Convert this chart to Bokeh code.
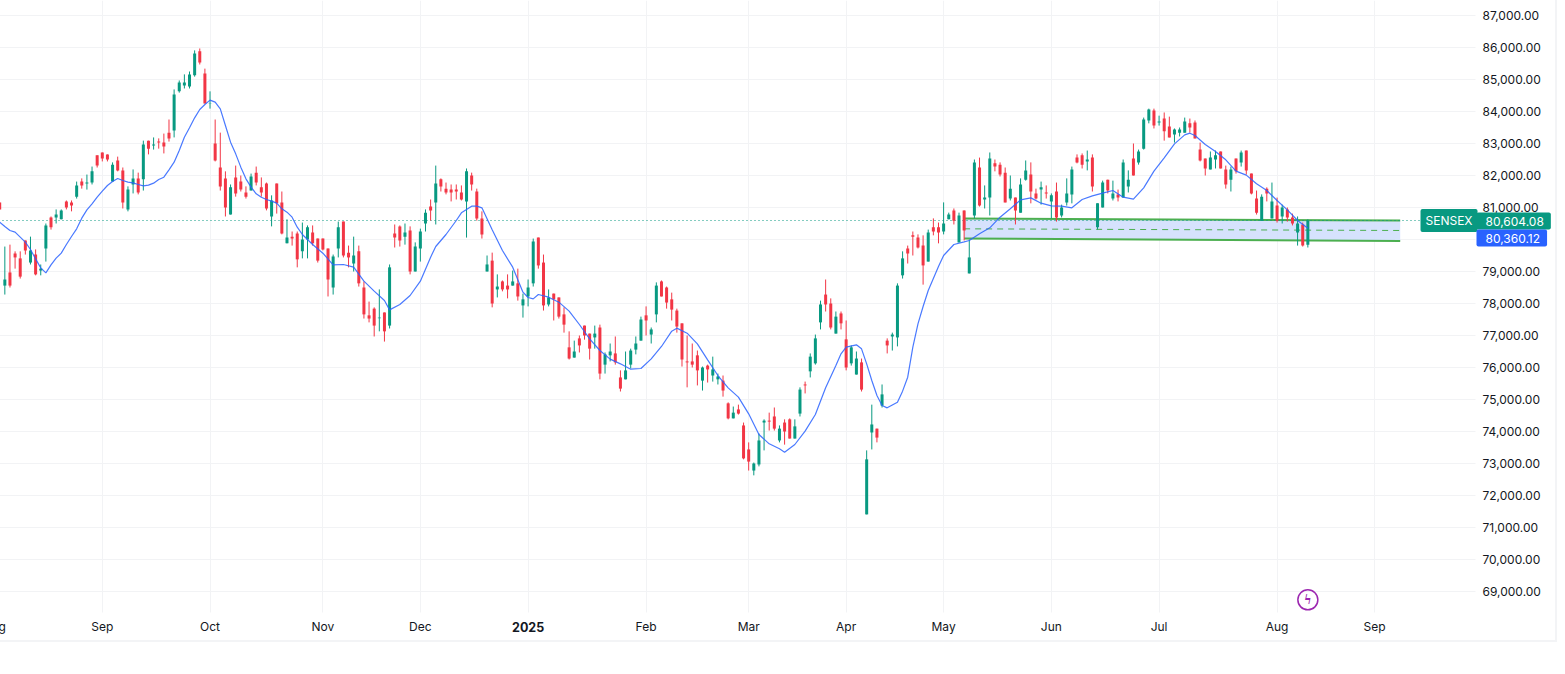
from bokeh.plotting import figure
from bokeh.embed import file_html
from bokeh.resources import INLINE
from bokeh.models import FixedTicker, Label, Range1d, NumeralTickFormatter

opens = [
81170,78570,78980,79570,79420,79980,79290,79540,79040,79730,
80700,80700,80640,81200,81170,81350,81820,81760,81790,82640,
82730,82670,81820,82480,82170,80950,81730,81920,81890,83100,
82950,83070,83040,83350,83420,84640,84820,84790,85140,85890,
85200,84250,83010,82260,81920,80790,81950,81820,81480,81540,
82100,81640,81760,80730,81760,81170,79890,80100,80200,79640,
80010,80230,80040,80040,79730,78510,79730,80570,79600,79260,
79640,78510,77640,77850,77550,77730,77320,80200,80420,80100,
80290,79010,79730,80510,81040,81170,81890,81600,81570,81570,
81480,81200,82010,81510,80670,79010,79350,78450,78700,78570,
78570,78640,77950,78230,78640,80070,79290,77980,78320,78200,
77670,76640,76320,76920,77320,77070,76950,77260,76100,76390,
76450,75700,75640,76100,76570,76850,77640,77040,77670,78700,
78510,78140,77790,77390,76200,76200,76390,75600,76070,75760,
75640,75600,74890,74420,74700,74200,73450,72790,72980,74290,
74350,74480,73730,74290,74390,73790,74570,75480,75890,76140,
77420,78290,78010,77070,77700,76890,76140,75790,76170,71420,
73980,74100,74820,76850,76980,76950,78890,79730,80140,80070,
79820,79320,80390,80390,80260,80640,80920,79920,80920,78950,
80760,82260,81260,81320,82390,82350,82100,81290,81320,80850,
81880,82040,81450,81570,81480,81200,81510,80760,81170,81420,
82570,82640,82450,82570,80390,81010,81880,81290,81420,81320,
81670,82540,82420,82850,83730,84040,83670,83790,83540,83290,
83350,83350,83640,83670,82820,82540,82200,82510,82760,82200,
81880,82540,82420,82790,82070,81290,80600,81600,80670,81070,
80730,80950,80700,80230,80480,79850]

highs = [
81170,79790,79850,79640,79640,79980,80100,79700,79230,80510,
80730,80950,80950,81230,81230,81820,81920,82040,82290,82640,
82730,82670,82420,82600,82260,81670,82200,82100,83100,83100,
83200,83170,83320,83760,84700,84980,85170,85260,85920,85980,
85350,84640,83760,83350,82140,81730,82320,82010,81670,82070,
82290,81950,81790,81390,81760,81510,80640,80260,80260,80540,
80450,80450,80040,80040,79730,79540,80570,80570,79820,80100,
79820,78700,78070,77890,78450,77730,79230,80480,80450,80510,
80420,79920,80350,80950,81260,82320,81920,81790,81730,81730,
81700,82230,82100,81600,80890,79510,79600,78920,78730,78920,
79040,79100,78320,78760,80040,80070,79540,78450,78320,78200,
77890,77140,76850,77010,77320,77070,77320,77350,76480,76760,
76980,75920,76510,76600,76980,77600,77920,77260,78670,78730,
78540,78350,77850,77390,77010,76760,76540,76040,76100,76350,
75820,75760,74920,74790,74850,74290,73670,73040,73950,74390,
74600,74760,74200,74390,74420,74390,75390,75570,76450,77040,
78100,78760,78170,77760,77760,77480,76700,76510,76290,73420,
74850,74100,75480,76920,77100,78640,79640,79820,80260,80170,
80140,80320,80670,80540,81170,80850,80980,80850,80920,80010,
82510,82570,81700,82730,82510,82420,82260,82010,81320,81920,
82480,82420,81600,81820,81700,81450,81790,81100,81920,82290,
82670,82700,82790,82670,81140,81850,81880,81850,81570,82510,
82170,83010,82820,83820,84100,84100,83880,83980,83850,83480,
83510,83820,83790,83730,83040,82540,82760,82790,82760,82320,
82290,82540,82790,82790,82070,81540,81420,81640,81790,81320,
81100,81010,80820,80730,80540,80640]

lows = [
80950,78290,78510,79100,78790,79540,79230,78890,78890,79320,
80320,80510,80640,80950,80890,81290,81600,81570,81730,82260,
82450,82450,81820,82140,80980,80890,81450,81420,81540,82670,
82820,82850,82700,83070,83200,84600,84730,84730,85100,85480,
84260,84100,82450,81540,80730,80790,81350,81510,81290,81540,
81700,81350,80920,80420,80820,80170,79890,79820,79140,79420,
79420,79820,79290,79670,78230,78290,79450,79450,79140,79010,
78540,77540,77420,76980,77140,76820,77230,79760,79790,79850,
78920,79010,79320,80260,80600,80480,81510,81420,81200,81260,
81230,80070,81540,80600,80040,79010,77890,78200,78390,78170,
78570,78100,77570,77920,78540,79100,77790,77920,77480,77540,
77100,76260,76320,76480,76880,76260,76600,75640,75820,76200,
76100,75260,75640,75980,76420,76850,77010,76760,77420,78230,
77850,77480,77100,76040,75390,76010,75450,75290,75540,75570,
75480,75100,74390,74420,74540,73140,72790,72640,72920,73420,
74040,74040,73670,73600,73790,73790,74480,75200,75700,76100,
77200,77760,77200,77070,77200,75920,76070,75790,75260,71420,
73450,73670,74760,76450,76540,76670,78790,79260,79510,79730,
78600,79320,80140,79890,80170,80640,80480,79920,79980,78950,
80670,81040,80980,80760,82140,81980,81170,81230,80480,80850,
81850,81140,81260,81100,81290,80670,80570,80700,81070,81140,
82390,82230,82170,81510,80320,81010,81450,81230,81200,81320,
81480,82010,82350,82820,83640,83480,83570,83100,83200,83040,
83230,83350,83350,83170,82450,82010,82200,82230,82230,81600,
81510,82070,82290,82040,81420,80790,80600,81200,80670,80540,
80510,80570,80450,79820,79790,79760]

closes = [
80950,78760,78570,79450,78850,79670,79670,78920,79100,80450,
80390,80790,80920,81010,81070,81700,81700,81790,82140,82320,
82540,82510,82350,82170,81170,81570,81920,81480,82980,82850,
82980,83040,82920,83170,84540,84920,84920,85170,85820,85540,
84260,84260,82480,81670,81010,81640,81450,81570,81350,81980,
81790,81480,80980,81230,81140,80200,80070,80040,79390,80010,
80390,79890,79350,79700,78760,79480,80390,79510,79450,79510,
78640,77670,77540,77320,77570,77140,79140,80070,79980,80230,
79010,79790,80260,80850,80920,81760,81670,81480,81480,81510,
81260,82140,81730,80670,80170,79230,78010,78540,78450,78450,
78700,78230,78140,78510,79950,79200,77950,78200,78140,77600,
77350,76290,76510,76700,77010,76600,77070,75820,76420,76510,
76170,75350,75920,76540,76760,77510,77480,77200,78570,78230,
78040,77820,77290,76260,76170,76100,75920,76010,75950,75950,
75730,75290,74420,74600,74570,73170,73070,73010,73730,74350,
74320,74100,74100,74010,73790,74170,75320,75450,76350,76920,
77980,77980,77260,77600,77390,76010,76640,76290,75320,73140,
74230,73820,75170,76700,77040,78570,79420,79570,80100,79760,
79200,80230,80260,80230,80510,80790,80600,80760,80290,79450,
82420,81070,81320,82540,82290,82040,81170,81600,80920,81730,
82170,81510,81290,81640,81450,81390,80700,81010,81450,82200,
82420,82350,82510,81670,81140,81790,81540,81450,81320,82420,
81880,82010,82760,83760,84070,83570,83700,83390,83200,83450,
83450,83700,83510,83170,82480,82230,82570,82640,82230,81730,
82200,82140,82730,82170,81450,80850,81350,81450,81200,80600,
81010,80700,80510,80510,79820,80604.08]

ma_bars = [
0,1,2,3,4,5,6,7,8,9,10,11,12,13,14,15,16,17,18,19,
20,21,22,23,24,25,26,27,28,29,30,31,32,33,34,35,36,37,38,39,
40,41,42,43,44,45,46,47,48,49,50,51,52,53,54,55,56,57,58,59,
61,63,65,67,69,71,73,75,76,78,80,82,84,85,87,89,90,92,93,94,
96,98,100,102,103,104,105,107,109,111,113,115,117,119,121,123,125,127,129,131,
132,134,136,138,140,142,144,146,148,150,152,153,155,157,159,161,163,164,165,167,
168,169,170,171,172,173,175,176,177,178,179,180,181,183,184,186,188,189,191,193,
195,197,199,201,203,205,207,209,211,213,215,217,219,221,223,225,227,229,231,232,
233,235,237,239,241,243,245,247,249,251,253,255]

ma_values = [
80552,80417,80292,80240,80083,79927,79698,79406,79125,78969,79218,79427,79583,79854,80104,80344,80677,80937,81125,81333,
81521,81698,81823,81917,81854,81802,81781,81729,81687,81708,81771,81885,81958,82187,82427,82792,83208,83500,83812,84073,
84229,84365,84302,84094,83573,83052,82687,82271,81906,81646,81437,81333,81260,81208,81146,80969,80864,80708,80396,80167,
79854,79583,79219,79229,79146,78708,78396,78104,77812,77979,78260,78708,79458,79792,80167,80604,80844,81052,81052,81000,
80312,79667,79146,78365,78198,78156,78292,78208,78052,77771,77354,76906,76542,76271,76125,75958,75979,76281,76667,77146,
77240,77083,76750,76250,75760,75375,75083,74562,73917,73625,73469,73365,73604,74021,74542,75375,76073,76437,76646,76719,
76594,76125,75604,75135,74823,74750,74927,75271,75708,76646,77375,77917,78417,79167,79510,79854,79937,79979,80187,80375,
80708,80969,81250,81312,81146,81062,81052,81000,81260,81375,81458,81542,81333,81271,81625,82146,82562,83000,83281,83333,
83260,82979,82760,82500,82146,82021,81750,81542,81229,80937,80604,80360.12]

price_ticks = [69000,70000,71000,72000,73000,74000,75000,76000,77000,78000,79000,80000,
               81000,82000,83000,84000,85000,86000,87000]
month_bars = [-1,20,41,63,82,103,126,146,165,184,205,226,249,268]
month_names = ["Aug","Sep","Oct","Nov","Dec","","Feb","Mar","Apr","May","Jun","Jul","Aug","Sep"]
year_bar = 103
year_label = "2025"

channel_bars = [188, 273]
channel_upper = [80667, 80604]
channel_mid = [80344, 80292]
channel_lower = [80040, 79965]

symbol_name = "SENSEX"
last_price = 80604.08
ma_last = 80360.12
signal_bar = [255]
signal_price = [68751]

GREEN = "#089981"
RED = "#f23645"
GRID = "#f2f3f5"
FONT = "Inter"

bars = list(range(len(closes)))
colors = [GREEN if c >= o else RED for o, c in zip(opens, closes)]

OFF = 30                # the frame starts a little left of the page: the first month label is cut off
SPACING = 5.13
PPX = 31.25             # price points per pixel


def bar_at(px):
    return 1 + (px - 4.33) / SPACING


def price_at(py):
    return 86000 - (py - 47.33) * PPX


p = figure(width=1585, height=640, frame_width=1585, frame_height=640,
           output_backend="svg", toolbar_location=None,
           x_axis_location="below", y_axis_location="right",
           x_range=Range1d(bar_at(-OFF), bar_at(1555)),
           y_range=Range1d(price_at(640), price_at(0)),
           min_border_left=0, min_border_top=0, min_border_bottom=0, min_border_right=0,
           background_fill_color="white", border_fill_color="white",
           outline_line_color=None,
           styles={"position": "absolute", "left": f"-{OFF}px", "top": "0px",
                   "border-right": "2px solid #f3f4f6", "border-bottom": "2px solid #f3f4f6"})

p.ygrid.ticker = FixedTicker(ticks=price_ticks)
p.xgrid.ticker = FixedTicker(ticks=month_bars)
p.ygrid.grid_line_color = GRID
p.xgrid.grid_line_color = GRID

# the scales take the margins of the chart: keep the grid out of them
p.quad(left=bar_at(1475), right=bar_at(1555), bottom=price_at(640), top=price_at(0),
       fill_color="white", line_color=None)
p.quad(left=bar_at(-OFF), right=bar_at(1555), bottom=price_at(640), top=price_at(612),
       fill_color="white", line_color=None)

ya = p.yaxis[0]
ya.fixed_location = bar_at(1475)
ya.ticker = FixedTicker(ticks=price_ticks)
ya.formatter = NumeralTickFormatter(format="0,0.00")
ya.axis_line_color = None
ya.major_tick_line_color = None
ya.minor_tick_line_color = None
ya.major_label_standoff = 1
ya.major_label_text_font = FONT
ya.major_label_text_font_size = "12px"
ya.major_label_text_color = "#131722"

xa = p.xaxis[0]
xa.fixed_location = price_at(612)
xa.ticker = FixedTicker(ticks=month_bars)
xa.major_label_overrides = {b: n for b, n in zip(month_bars, month_names)}
xa.axis_line_color = None
xa.major_tick_line_color = None
xa.minor_tick_line_color = None
xa.major_label_standoff = 0
xa.major_label_text_font = FONT
xa.major_label_text_font_size = "12px"
xa.major_label_text_color = "#131722"

# channel
p.varea(x=channel_bars, y1=channel_lower, y2=channel_upper, fill_color="#cfddfd", fill_alpha=0.85)
p.line(channel_bars, channel_upper, line_color="#4caf50", line_width=2)
p.line(channel_bars, channel_lower, line_color="#4caf50", line_width=2)
p.line(channel_bars, channel_mid, line_color="#4caf50", line_width=1, line_dash=[6, 5])

# last price line
p.line([bar_at(-OFF), bar_at(1420)], [last_price, last_price], line_color=GREEN, line_width=1,
       line_dash=[1, 3])

# candles
p.segment(bars, highs, bars, lows, line_color=colors, line_width=1)
p.vbar(x=bars, width=0.585, top=[max(o, c) for o, c in zip(opens, closes)],
       bottom=[min(o, c) for o, c in zip(opens, closes)], fill_color=colors, line_color=None)

# moving average
p.line(ma_bars, ma_values, line_color="#2962ff", line_width=1.2, line_alpha=0.85)

# signal icon
p.scatter(signal_bar, signal_price, marker="circle", size=20, fill_color="white",
          fill_alpha=0, line_color="#9c27b0", line_width=1.5)
p.text(signal_bar, signal_price, text=["\u03df"], text_font="DejaVu Sans", text_font_size="14px",
       text_font_style="bold", text_color="#9c27b0", text_align="center", text_baseline="middle")


# price tags
def tag(text, y, sx, color, pad_left, pad_right):
    p.add_layout(Label(x=sx, x_units="screen", y=y, y_units="data", text=text,
                       text_font=FONT, text_font_size="12px", text_color="white",
                       text_align="left", text_baseline="middle",
                       background_fill_color=color,
                       padding=(pad_left, pad_right, 4, 4), border_radius=2))


tag(symbol_name, last_price, 1420 + OFF, GREEN, 5, 5)
tag(f"{last_price:,.2f}", price_at(220.5), 1476 + OFF, GREEN, 9, 7)
tag(f"{ma_last:,.2f}", price_at(237.5), 1476 + OFF, "#2962ff", 9, 7)

p.add_layout(Label(x=year_bar, x_units="data", y=13.5, y_units="screen", text=year_label,
                   text_font=FONT, text_font_size="12.5px", text_font_style="bold",
                   text_color="#131722", text_align="center", text_baseline="middle"))

open("out.html", "w").write(file_html(p, INLINE))
